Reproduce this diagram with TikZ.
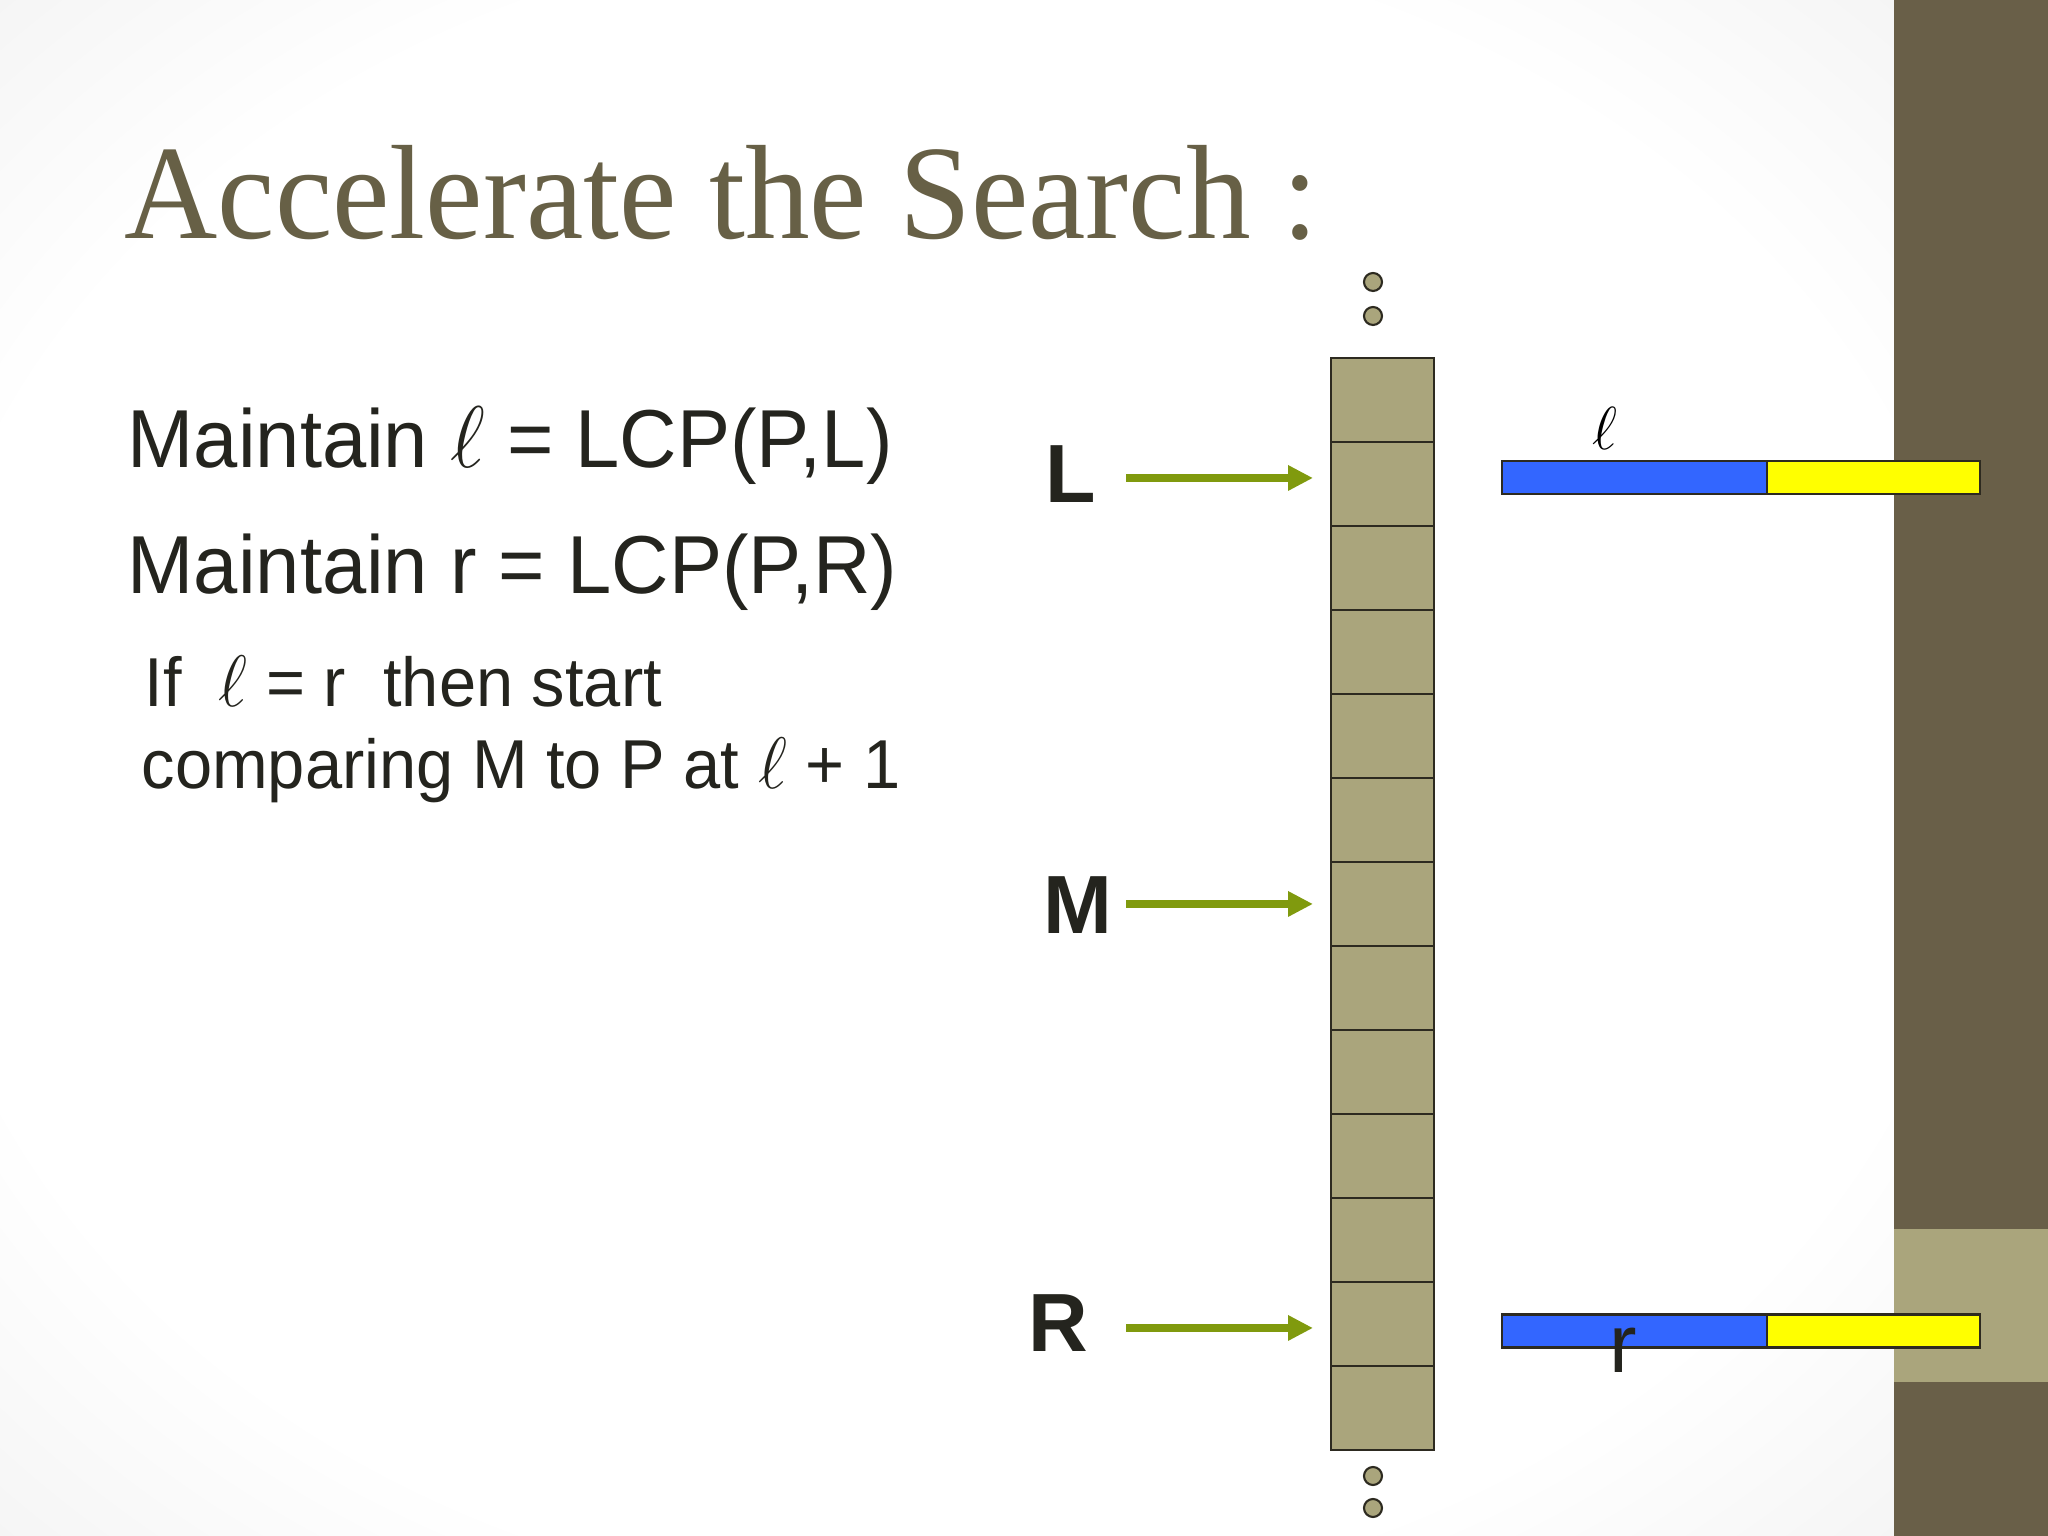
\documentclass[tikz,border=0pt]{standalone}
\usepackage{fontspec}
\setmainfont{Liberation Sans}
\newfontfamily\titlefont{Liberation Serif}
\usetikzlibrary{arrows.meta}
\definecolor{titlecol}{RGB}{103,96,70}
\definecolor{bandcol}{RGB}{105,95,72}
\definecolor{khaki}{RGB}{170,165,124}
\definecolor{celledge}{RGB}{45,42,32}
\definecolor{ptrgreen}{RGB}{128,154,14}
\definecolor{barblue}{RGB}{51,102,255}
\definecolor{baryellow}{RGB}{255,255,0}
\definecolor{bodytext}{RGB}{36,36,30}
\pgfdeclareradialshading{slidebg}{\pgfpoint{0bp}{0bp}}{color(0bp)=(white); color(27bp)=(white);
  color(40bp)=(black!6); color(50bp)=(black!9)}
\begin{document}
\begin{tikzpicture}[
    cell/.style={draw=celledge, fill=khaki, line width=0.7pt, minimum width=1.03cm,
      minimum height=0.84cm, inner sep=0pt, outer sep=0pt},
    dot/.style={circle, draw=celledge, fill=khaki, line width=0.6pt, minimum size=1.8mm, inner sep=0pt},
    ptr/.style={-{Triangle[length=2.5mm,width=2.4mm]}, draw=ptrgreen, line width=0.8mm, shorten >=1.8mm},
    lbl/.style={font=\fontsize{23.5}{24}\selectfont\bfseries, text=bodytext, anchor=base west, inner sep=0pt},
    body/.style={font=\fontsize{23.4}{24}\selectfont, text=bodytext, anchor=base west, inner sep=0pt, xscale=0.967},
    small/.style={font=\fontsize{19.7}{20}\selectfont, text=bodytext, anchor=base west, inner sep=0pt, xscale=0.965},
    seg/.style={draw=celledge, line width=0.6pt, minimum height=0.33cm, inner sep=0pt, outer sep=0pt, anchor=west}
  ]
  \useasboundingbox (0,0) rectangle (20.48,15.36);
  % background and side band
  \shade[shading=slidebg] (0,0) rectangle (18.94,15.36);
  \fill[bandcol] (18.94,0) rectangle (20.48,15.36);
  \fill[khaki] (18.94,1.54) rectangle (20.48,3.07);

  % title
  \node[anchor=base west, inner sep=0pt, text=titlecol, xscale=0.962,
    font=\titlefont\fontsize{38.2}{40}\selectfont] (title) at (1.24,12.97) {Accelerate the Search :};

  % text
  \node[body] (line1) at (1.27,10.68) {Maintain $\ell$ = LCP(P,L)};
  \node[body] (line2) at (1.27,9.42) {Maintain r = LCP(P,R)};
  \node[small] (line3) at (1.44,8.29) {If\ \ $\ell$ = r\ \ then start};
  \node[small] (line4) at (1.41,7.47) {comparing M to P at $\ell$ + 1};

  % the array
  \foreach \i in {1,...,13}
    \node[cell] (c\i) at (13.825,{11.78-0.84*(\i-0.5)}) {};
  \node[dot] (d1) at (13.73,12.54) {};
  \node[dot] (d2) at (13.73,12.20) {};
  \node[dot] (d3) at (13.73,0.60) {};
  \node[dot] (d4) at (13.73,0.28) {};

  % pointers
  \node[lbl] (L) at (10.45,10.33) {L};
  \node[lbl] (M) at (10.43,6.02) {M};
  \node[lbl] (R) at (10.28,1.84) {R};
  \coordinate (aL) at (11.26,10.58);
  \coordinate (aM) at (11.26,6.32);
  \coordinate (aR) at (11.26,2.08);
  \draw[ptr] (aL) -- (aL -| c2.west);
  \draw[ptr] (aM) -- (aM -| c7.west);
  \draw[ptr] (aR) -- (aR -| c12.west);

  % prefix bars
  \node[seg, fill=barblue, minimum width=2.65cm] (lblue) at (15.02,10.585) {};
  \node[seg, fill=baryellow, minimum width=2.13cm] (lyellow) at (lblue.east) {};
  \node[seg, fill=barblue, minimum width=2.65cm] (rblue) at (15.02,2.05) {};
  \node[seg, fill=baryellow, minimum width=2.13cm] (ryellow) at (rblue.east) {};
  \node[inner sep=0pt, font=\fontsize{19}{19}\selectfont] (lval) at (16.05,11.08) {$\ell$};
  \node[inner sep=0pt, text=bodytext, font=\fontsize{23.5}{24}\selectfont] (rval) at (16.23,1.86) {r};
\end{tikzpicture}
\end{document}
